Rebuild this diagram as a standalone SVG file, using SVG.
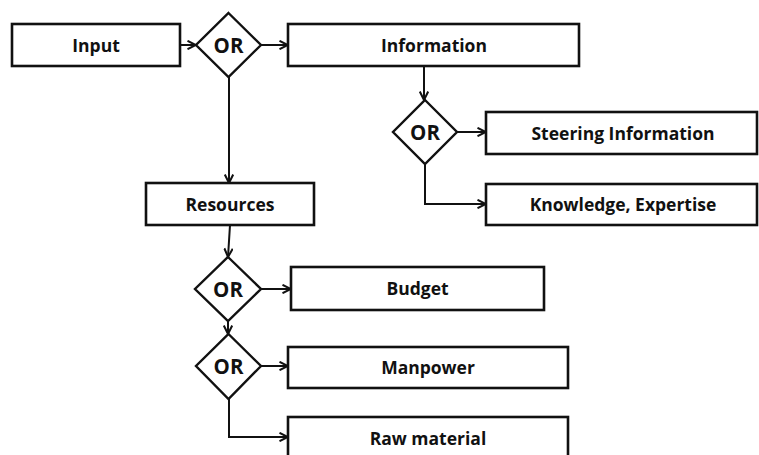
<svg xmlns="http://www.w3.org/2000/svg" width="759" height="455" viewBox="0 0 759 455">
<style>
.box{fill:#fff;stroke:#111;stroke-width:2.6}
.dia{fill:#fff;stroke:#111;stroke-width:2.4}
.lbl{font-family:"Open Sans","Liberation Sans",sans-serif;font-weight:700;font-size:17.5px;fill:#111;text-anchor:middle}
.or{font-family:"Open Sans","Liberation Sans",sans-serif;font-weight:700;font-size:20.5px;fill:#111;text-anchor:middle}
.con{fill:none;stroke:#111;stroke-width:2;marker-end:url(#arr)}
</style>
<defs>
<marker id="arr" viewBox="0 0 10 10" refX="9.5" refY="5" markerWidth="10" markerHeight="10" markerUnits="userSpaceOnUse" orient="auto">
<path d="M1,0.8 L9.5,5 L1,9.2" fill="none" stroke="#111" stroke-width="2"/>
</marker>
</defs>
<rect width="759" height="455" fill="#fff"/>
<g id="connectors">
<line class="con" x1="180" y1="45" x2="196" y2="45"/>
<line class="con" x1="261" y1="45" x2="288" y2="45"/>
<line class="con" x1="229" y1="77" x2="229" y2="183"/>
<line class="con" x1="424" y1="66" x2="424" y2="100"/>
<line class="con" x1="457" y1="132" x2="486" y2="132"/>
<polyline class="con" points="425,164 425,204 486,204"/>
<line class="con" x1="230" y1="225" x2="228" y2="257"/>
<line class="con" x1="261" y1="289" x2="291" y2="289"/>
<line class="con" x1="228" y1="320" x2="228" y2="334"/>
<line class="con" x1="261" y1="366" x2="288" y2="366"/>
<polyline class="con" points="229,399 229,437 288,437"/>
</g>
<g id="input"><rect class="box" x="12" y="24" width="168" height="42"/><text class="lbl" x="96" y="51.5">Input</text></g>
<g id="or1"><polygon class="dia" points="228.5,13 261,45 228.5,77 196,45"/><text class="or" x="228.5" y="52.5">OR</text></g>
<g id="information"><rect class="box" x="288" y="24" width="291" height="42"/><text class="lbl" x="434" y="51.5">Information</text></g>
<g id="or2"><polygon class="dia" points="425,100 457,132 425,164 393,132"/><text class="or" x="425" y="139.5">OR</text></g>
<g id="steering"><rect class="box" x="486" y="112" width="271" height="42"/><text class="lbl" x="623" y="139.5">Steering Information</text></g>
<g id="knowledge"><rect class="box" x="486" y="184" width="271" height="41"/><text class="lbl" x="623" y="211">Knowledge, Expertise</text></g>
<g id="resources"><rect class="box" x="146" y="183" width="168" height="42"/><text class="lbl" x="230" y="210.5">Resources</text></g>
<g id="or3"><polygon class="dia" points="228,257 261,289 228,321 195,289"/><text class="or" x="228" y="296.5">OR</text></g>
<g id="budget"><rect class="box" x="291" y="267" width="253" height="43"/><text class="lbl" x="417.5" y="295">Budget</text></g>
<g id="or4"><polygon class="dia" points="228.5,334 261,366 228.5,399 196,366"/><text class="or" x="228.5" y="373.5">OR</text></g>
<g id="manpower"><rect class="box" x="288" y="347" width="280" height="41"/><text class="lbl" x="428" y="374">Manpower</text></g>
<g id="raw"><rect class="box" x="288" y="417" width="280" height="42"/><text class="lbl" x="428" y="444.5">Raw material</text></g>
</svg>
